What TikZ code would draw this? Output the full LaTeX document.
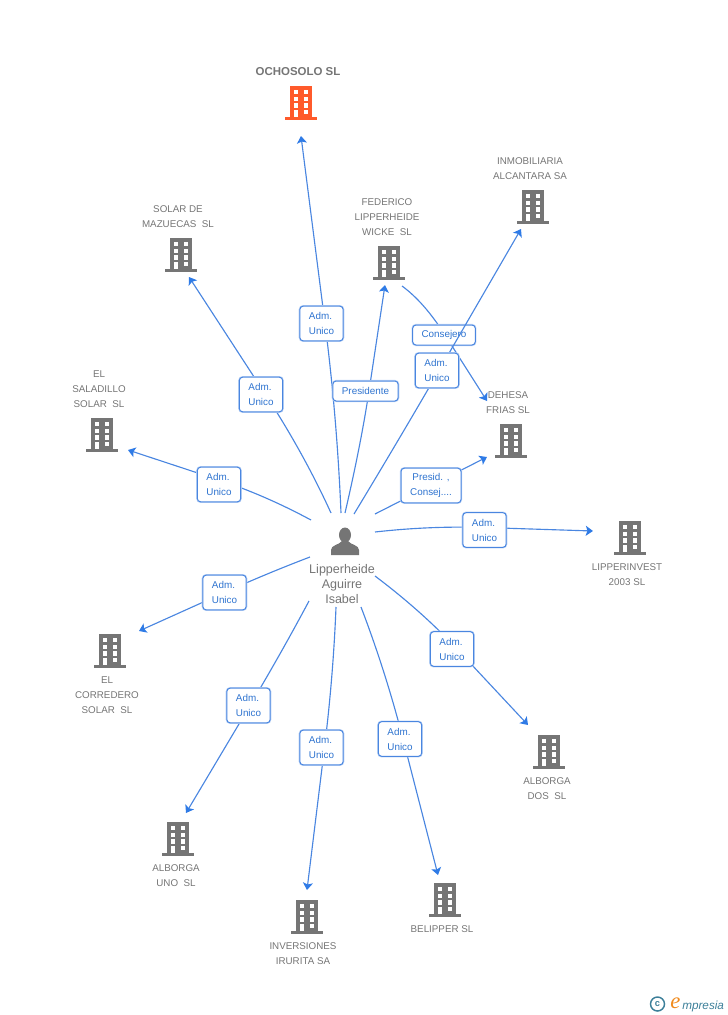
\documentclass[tikz,border=0pt]{standalone}
\usepackage{fontspec}
\setmainfont{Liberation Sans}
\newfontfamily\logoserif{Liberation Serif}
\usetikzlibrary{arrows.meta,calc}
\pgfdeclarelayer{edgelayer}\pgfdeclarelayer{conslayer}\pgfdeclarelayer{midlayer}
\pgfsetlayers{edgelayer,conslayer,midlayer,main}
\definecolor{edgeblue}{HTML}{4A86E0}
\definecolor{tipblue}{HTML}{2F7BE6}
\definecolor{halo}{HTML}{BBD3F5}
\definecolor{labblue}{HTML}{2F74D0}
\definecolor{txtgray}{HTML}{757575}
\definecolor{bldgray}{HTML}{757575}
\definecolor{bldorange}{HTML}{FF5A2B}
\definecolor{logoteal}{HTML}{3C7F99}
\definecolor{logoorange}{HTML}{F08A1D}
\tikzset{
  x=0.75pt,y=-0.75pt,
  bldicon/.style={inner sep=0pt,outer sep=0pt,minimum width=24pt,minimum height=25.5pt,
    path picture={\begin{scope}[shift={(path picture bounding box.center)}]
      \fill[#1] (-11,-17) rectangle (11,15);
      \fill[#1] (-16,14) rectangle (16,17);
      \fill[white] (-7.3,-13) rectangle (-2.7,-9);
      \fill[white] (2.7,-13) rectangle (7.3,-9);
      \fill[white] (-7.3,-6) rectangle (-2.7,-2);
      \fill[white] (2.7,-6) rectangle (7.3,-2);
      \fill[white] (-7.3,0) rectangle (-2.7,5);
      \fill[white] (2.7,0) rectangle (7.3,5);
      \fill[white] (-7.3,7) rectangle (-2.7,14);
      \fill[white] (2.7,7) rectangle (7.3,11);
    \end{scope}}},
  bldicon/.default=bldgray,
  ent/.style={text=txtgray,font=\fontsize{7.35pt}{11.25pt}\selectfont,align=center,inner sep=0pt},
  rolebox/.style={draw=edgeblue,line width=0.75pt,rounded corners=2.5pt,fill=white,text=labblue,
    font=\fontsize{7.4pt}{11.25pt}\selectfont,align=center,inner sep=0pt,
    minimum width=32.5pt,minimum height=26pt,
    preaction={draw=halo,line width=1.7pt}},
  wide/.style={minimum width=#1,minimum height=15pt},
  conn/.style={draw=edgeblue,line width=0.85pt},
  arrowed/.style={conn,-{Stealth[length=5.4pt,width=7.5pt,inset=1.2pt,color=tipblue]}},
}
% start, waypoint inside the role box, end: curved lower part, straight upper part
\newcommand{\conn}[3]{%
  \coordinate (q) at ($(#2)!-0.5!(#3)$);
  \draw[arrowed] (#1) .. controls ($(#1)!0.667!(q)$) and ($(#2)!0.667!(q)$) .. (#2) -- (#3);}
\newcommand{\admu}{Adm.\kern1.5pt\\Unico}
\begin{document}
\begin{tikzpicture}
\useasboundingbox (0,0) rectangle (728,1015);
% buildings
\node[bldicon=bldorange] (ocho) at (301,103) {};
\node[bldicon] (inmo) at (533,207) {};
\node[bldicon] (mazu) at (181,255) {};
\node[bldicon] (fede) at (389,263) {};
\node[bldicon] (sala) at (102,435) {};
\node[bldicon] (dehe) at (511,441) {};
\node[bldicon] (lipp) at (630,538) {};
\node[bldicon] (corr) at (110,651) {};
\node[bldicon] (aldo) at (549,752) {};
\node[bldicon] (alun) at (178,839) {};
\node[bldicon] (inve) at (307,917) {};
\node[bldicon] (beli) at (445,900) {};
% entity names
\node[ent,font=\fontsize{8.6pt}{11.25pt}\selectfont\bfseries] (tocho) at (298,72) {OCHOSOLO SL};
\node[ent] (tinmo) at (530,168.5) {INMOBILIARIA\\ALCANTARA SA};
\node[ent] (tmazu) at (178,217) {SOLAR DE\\MAZUECAS\ \ SL};
\node[ent] (tfede) at (387,217) {FEDERICO\\LIPPERHEIDE\\WICKE\ \ SL};
\node[ent] (tsala) at (99,389) {EL\\SALADILLO\\SOLAR\ \ SL};
\node[ent] (tlipp) at (627,574.5) {LIPPERINVEST\\2003 SL};
\node[ent] (tcorr) at (107,695) {EL\\CORREDERO\\SOLAR\ \ SL};
\node[ent] (taldo) at (547,788.5) {ALBORGA\\DOS\ \ SL};
\node[ent] (talun) at (176,875.5) {ALBORGA\\UNO\ \ SL};
\node[ent] (tinve) at (303,953.5) {INVERSIONES\\IRURITA SA};
\node[ent] (tbeli) at (442,929) {BELIPPER SL};
% person
\node[inner sep=0pt,minimum width=21pt,minimum height=21pt,
  path picture={\begin{scope}[shift={(path picture bounding box.center)}]
    \fill[bldgray] (0,-6) ellipse (6 and 7.5);
    \fill[bldgray] (-14,14) -- (-14,9) .. controls (-14,4) and (-6,4) .. (-3,0) -- (3,0)
       .. controls (6,4) and (14,4) .. (14,9) -- (14,14) -- cycle;
  \end{scope}}] (pers) at (345,541) {};
\node[ent,font=\fontsize{9.4pt}{11.25pt}\selectfont] (tpers) at (342,584) {Lipperheide\\Aguirre\\Isabel};
% role boxes
\node[rolebox] (r1) at (321.5,323.5) {\admu};
\node[rolebox] (r2) at (261,394.5) {\admu};
\node[rolebox,wide=49pt] (r3) at (365.5,391) {Presidente};
\node[rolebox] (r4) at (437,370.5) {\admu};
\node[rolebox] (r5) at (219,484.5) {\admu};
\begin{pgfonlayer}{conslayer}
\node[rolebox,wide=47pt] (r6) at (444,335) {Consejero};
\end{pgfonlayer}
\node[rolebox,minimum width=45pt] (r7) at (431,485.5) {Presid. ,\\Consej....};
\node[rolebox] (r8) at (484.5,530) {\admu};
\node[rolebox] (r9) at (452,649) {\admu};
\node[rolebox] (r10) at (400,739) {\admu};
\node[rolebox] (r11) at (321.5,747.5) {\admu};
\node[rolebox] (r12) at (248.5,705.5) {\admu};
\node[rolebox] (r13) at (224.5,592.5) {\admu};
% connector free ends and the waypoints inside the role boxes
\coordinate (s1) at (341,513); \coordinate (m1) at ($(r1.center)+(3.5,0)$); \coordinate (e1) at (301,136);
\coordinate (s2) at (331,513); \coordinate (m2) at ($(r2.center)+(4.5,0)$); \coordinate (e2) at (189,277);
\coordinate (s3) at (345,513); \coordinate (m3) at ($(r3.center)+(3.5,0)$); \coordinate (e3) at (385,285);
\coordinate (s4) at (354,514); \coordinate (m4) at ($(r4.center)+(2,0)$); \coordinate (e4) at (521,229);
\coordinate (s5) at (311,520); \coordinate (m5) at ($(r5.center)+(0,-4.5)$); \coordinate (e5) at (128,450);
\coordinate (s6) at (402,286); \coordinate (m6) at ($(r6.center)+(1,0)$); \coordinate (e6) at (487,401);
\coordinate (s7) at (375,514); \coordinate (m7) at (r7.center); \coordinate (e7) at (487,457);
\coordinate (s8) at (375,532); \coordinate (m8) at ($(r8.center)+(0,-2.5)$); \coordinate (e8) at (593,531);
\coordinate (s9) at (375,576); \coordinate (m9) at ($(r9.center)+(5,0)$); \coordinate (e9) at (528,725);
\coordinate (s10) at (361,607); \coordinate (m10) at ($(r10.center)+(3,0)$); \coordinate (e10) at (438,875);
\coordinate (s11) at (336,607); \coordinate (m11) at ($(r11.center)+(3,0)$); \coordinate (e11) at (307,890);
\coordinate (s12) at (309,601); \coordinate (m12) at ($(r12.center)+(1.5,0)$); \coordinate (e12) at (186,813);
\coordinate (s13) at (310,557); \coordinate (m13) at (r13.center); \coordinate (e13) at (139,631);
\begin{pgfonlayer}{edgelayer}
\conn{s1}{m1}{e1}
\conn{s2}{m2}{e2}
\conn{s3}{m3}{e3}
\conn{s5}{m5}{e5}
\conn{s6}{m6}{e6}
\conn{s7}{m7}{e7}
\conn{s8}{m8}{e8}
\conn{s9}{m9}{e9}
\conn{s10}{m10}{e10}
\conn{s11}{m11}{e11}
\conn{s12}{m12}{e12}
\conn{s13}{m13}{e13}
\end{pgfonlayer}
\begin{pgfonlayer}{midlayer}
\conn{s4}{m4}{e4}
\end{pgfonlayer}
% DEHESA name sits over the arrow tip
\node[ent] (tdehe) at (508,402.5) {DEHESA\\FRIAS SL};
% logo
\node[inner sep=0pt,draw=logoteal,line width=1.1pt,circle,minimum size=10.5pt,text=logoteal,
  font=\fontsize{7pt}{7pt}\selectfont\bfseries] (lc) at (657.5,1004) {c};
\node[inner sep=0pt,anchor=base west,text=logoorange,
  font=\fontsize{17pt}{17pt}\selectfont\logoserif\itshape] (le) at (670,1008) {e};
\node[inner sep=0pt,anchor=base west,text=logoteal,
  font=\fontsize{8.8pt}{10pt}\selectfont\itshape] (lm) at (682,1009) {mpresia};
\end{tikzpicture}
\end{document}
